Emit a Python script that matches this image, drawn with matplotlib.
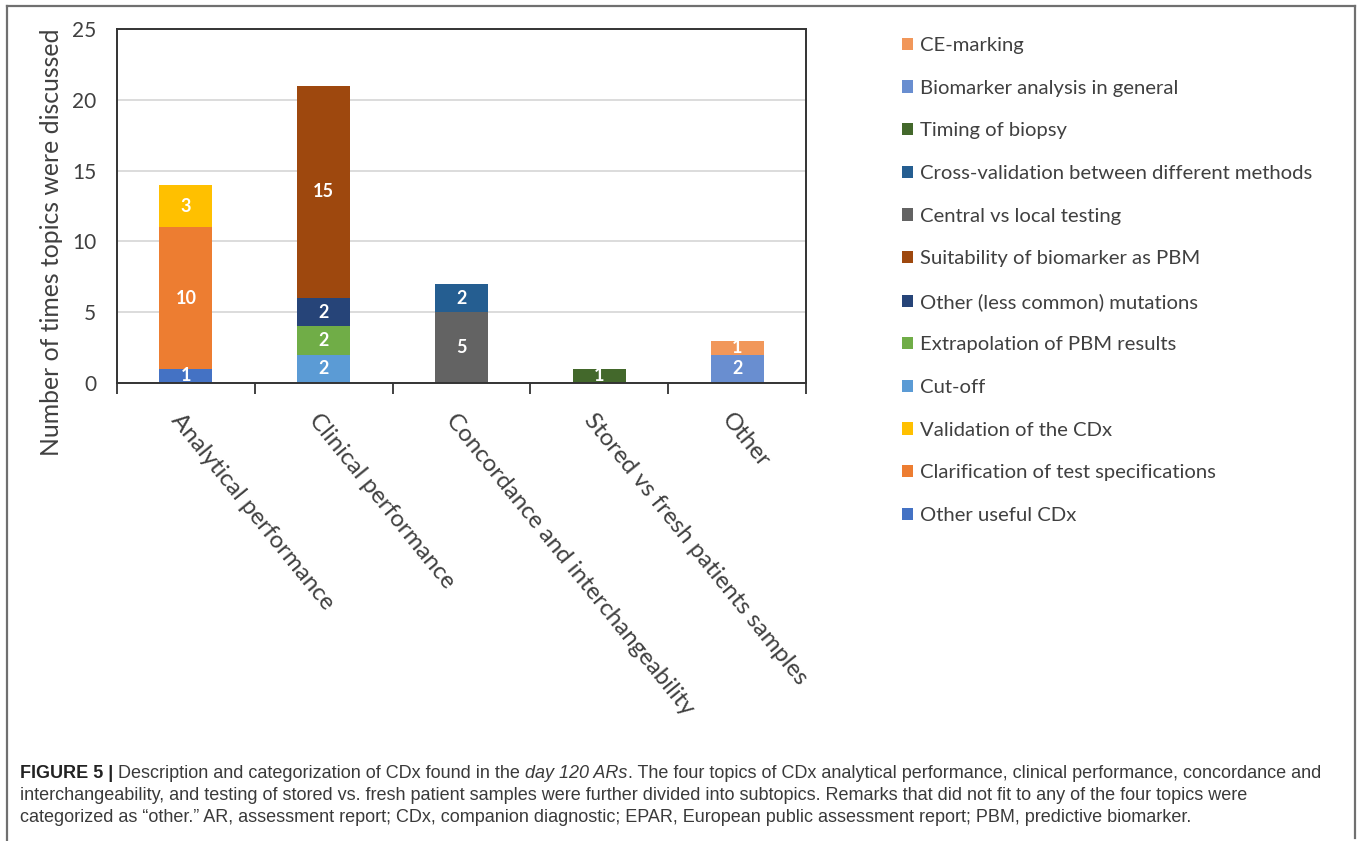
import matplotlib
matplotlib.use("Agg")
import matplotlib.pyplot as plt
import numpy as np
from matplotlib.patches import Patch
from matplotlib.lines import Line2D

W, H = 1358, 841

categories = ["Analytical performance", "Clinical performance",
              "Concordance and interchangeability",
              "Stored vs fresh patients samples", "Other"]

# subtopic counts per category, listed bottom of the stack first
other_useful = [1, 0, 0, 0, 0]
clarification = [10, 0, 0, 0, 0]
validation = [3, 0, 0, 0, 0]
cut_off = [0, 2, 0, 0, 0]
extrapolation = [0, 2, 0, 0, 0]
other_mutations = [0, 2, 0, 0, 0]
suitability = [0, 15, 0, 0, 0]
central_local = [0, 0, 5, 0, 0]
cross_validation = [0, 0, 2, 0, 0]
timing_biopsy = [0, 0, 0, 1, 0]
biomarker_general = [0, 0, 0, 0, 2]
ce_marking = [0, 0, 0, 0, 1]

series = [
    ("Other useful CDx", other_useful, "#4472C4"),
    ("Clarification of test specifications", clarification, "#ED7D31"),
    ("Validation of the CDx", validation, "#FFC000"),
    ("Cut-off", cut_off, "#5B9BD5"),
    ("Extrapolation of PBM results", extrapolation, "#70AD47"),
    ("Other (less common) mutations", other_mutations, "#264478"),
    ("Suitability of biomarker as PBM", suitability, "#9E480E"),
    ("Central vs local testing", central_local, "#636363"),
    ("Cross-validation between different methods", cross_validation, "#255E91"),
    ("Timing of biopsy", timing_biopsy, "#43682B"),
    ("Biomarker analysis in general", biomarker_general, "#698ED0"),
    ("CE-marking", ce_marking, "#F1975A"),
]

yticks = [0, 5, 10, 15, 20, 25]

plt.rcParams['font.family'] = ['Lato', 'DejaVu Sans']
txt_col = "#404040"

fig = plt.figure(figsize=(W / 100, H / 100), dpi=100)
ax = fig.add_axes([117 / W, 1 - 383 / H, 689 / W, 354 / H])

x = np.arange(len(categories))
bottom = np.zeros(len(categories))
handles = []
for name, vals, col in series:
    vals = np.array(vals, dtype=float)
    bars = ax.bar(x, vals, 0.385, bottom=bottom, color=col, zorder=2)
    for rect, v, b in zip(bars, vals, bottom):
        if v > 0:
            ax.text(rect.get_x() + rect.get_width() / 2, b + v / 2, f"{int(v)}",
                    ha="center", va="center", color="white",
                    fontsize=13, fontweight="bold", zorder=3)
    bottom += vals
    handles.append(Patch(facecolor=col, label=name))

ax.set_xlim(-0.5, len(categories) - 0.5)
ax.set_ylim(0, 25)
ax.set_yticks(yticks)
ax.yaxis.grid(True, color="#D9D9D9", linewidth=1.3, zorder=0)
ax.set_axisbelow(True)
ax.tick_params(axis="y", length=0, pad=15, labelsize=15, labelcolor=txt_col)

# category separators as ticks below the axis
ax.set_xticks(np.arange(-0.5, len(categories), 1.0))
ax.set_xticklabels([])
ax.tick_params(axis="x", direction="out", length=8, width=1.3, color="#333333")
for i, lab in enumerate(categories):
    ax.text(i - 0.02, -0.075, lab, transform=ax.get_xaxis_transform(),
            rotation=-51, rotation_mode="anchor", ha="left", va="top",
            fontsize=17.4, color=txt_col)

for s in ax.spines.values():
    s.set_color("#333333")
    s.set_linewidth(1.4)

fig.text(52 / W, 1 - 242 / H, "Number of times topics were discussed",
         rotation=90, ha="center", va="center", fontsize=17.8, color=txt_col)

fig.legend(handles=handles[::-1], loc="upper left",
           bbox_to_anchor=(902 / W, 1 - 37 / H), frameon=False,
           fontsize=14.6, handlelength=0.55, handleheight=0.55,
           handletextpad=0.35, labelspacing=1.265, borderpad=0,
           borderaxespad=0, labelcolor=txt_col)

# outer frame
frame_kw = dict(color="#707070", linewidth=1.6, transform=fig.transFigure)
fig.add_artist(Line2D([7 / W, 7 / W], [1 - 6 / H, 0.0], **frame_kw))
fig.add_artist(Line2D([7 / W, 1355 / W], [1 - 6 / H, 1 - 6 / H], **frame_kw))
fig.add_artist(Line2D([1355 / W, 1355 / W], [1 - 6 / H, 1 - 838 / H], **frame_kw))

# caption, built piece by piece to mix bold/italic runs
cap_font = ['Liberation Sans', 'DejaVu Sans']
cap_size = 12.95
renderer = fig.canvas.get_renderer()


def caption_line(pieces, y_px):
    xf = 20 / W
    for text, weight, style, col in pieces:
        t = fig.text(xf, 1 - y_px / H, text, ha="left", va="center",
                     family=cap_font, fontsize=cap_size, fontweight=weight,
                     fontstyle=style, color=col)
        xf += t.get_window_extent(renderer).width / W


cap_col = "#3a3a3a"
caption_line([
    ("FIGURE 5 | ", "bold", "normal", "#222222"),
    ("Description and categorization of CDx found in the ", "normal", "normal", cap_col),
    ("day 120 ARs", "normal", "italic", cap_col),
    (". The four topics of CDx analytical performance, clinical performance, concordance and",
     "normal", "normal", cap_col),
], 773)
caption_line([
    ("interchangeability, and testing of stored vs. fresh patient samples were further divided "
     "into subtopics. Remarks that did not fit to any of the four topics were",
     "normal", "normal", cap_col),
], 796)
caption_line([
    ("categorized as \u201cother.\u201d AR, assessment report; CDx, companion diagnostic; EPAR, "
     "European public assessment report; PBM, predictive biomarker.",
     "normal", "normal", cap_col),
], 818)

fig.savefig("out.png", dpi=100)
